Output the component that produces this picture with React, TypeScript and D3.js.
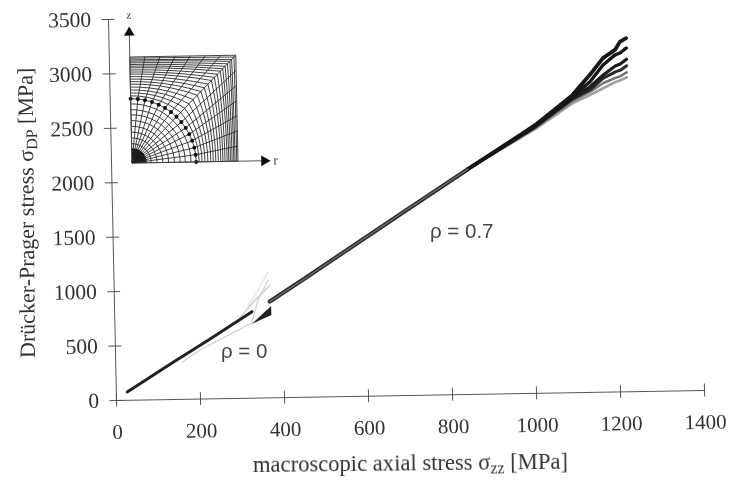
import React, { useEffect, useRef } from 'react';
import * as d3 from 'd3';

// axis ticks
const xTicks = [0, 200, 400, 600, 800, 1000, 1200, 1400];
const yTicks = [0, 500, 1000, 1500, 2000, 2500, 3000, 3500];

// rho = 0.7 family, shared trunk then a fan
const trunkStress = [371, 456, 685, 849];
const trunkDP = [880, 1088, 1660, 2065];
const fanStress = [1011, 1100, 1144, 1176, 1205, 1217, 1232];
const fan1 = [2458, 2722, 2912, 3064, 3137, 3210, 3243];
const fan2 = [2452, 2710, 2848, 3000, 3091, 3108, 3153];
const fan3 = [2446, 2698, 2802, 2908, 2990, 3007, 3050];
const fan4 = [2440, 2688, 2775, 2880, 2935, 2950, 2990];
const fan5 = [2432, 2672, 2757, 2835, 2880, 2895, 2930];
const fan6 = [2422, 2650, 2728, 2789, 2843, 2857, 2884];
const fanSeries = [fan6, fan5, fan4, fan3, fan2, fan1];
const fanColors = ['#a0a0a0', '#777', '#2a2a2a', '#1c1c1c', '#141414', '#141414'];
const fanWidths = [2.6, 2.6, 3, 3.2, 3.4, 3.8];

// rho = 0 family
const lowStress = [27, 137, 227, 328];
const lowDP = [72, 335, 545, 790];
const wedgeStress = [327, 374];
const wedgeLow = [677, 757];
const wedgeHigh = [677, 840];
const greyStress1 = [161, 202, 327, 343, 368];
const greyDP1 = [340, 446, 686, 897, 1075];
const greyStress2 = [299, 336, 372];
const greyDP2 = [735, 897, 1029];
const greyStress3 = [311, 343, 368];
const greyDP3 = [790, 988, 1148];

// inset mesh, in units of the notch radius
const meshIntervals = d3.range(0, 15);
const innerRings = [0.3, 0.39, 0.48, 0.57, 0.66, 0.75, 0.83, 0.92, 1];
const coreRadius = 0.23;
const outerRings = [0.07, 0.14, 0.21, 0.28, 0.35, 0.41, 0.47, 0.53, 0.59, 0.64, 0.69, 0.74, 0.78, 0.82, 0.86, 0.9, 0.93, 0.97, 1];
const boxSide = 1.65;

type Pt = [number, number];

const App = () => {
  const svgRef = useRef<SVGSVGElement>(null);

  useEffect(() => {
    document.body.style.margin = '0';
    const svg = d3.select(svgRef.current);
    svg.selectAll('*').remove();

    const serif = '"Liberation Serif", serif';
    const ink = '#333';

    const defs = svg.append('defs');
    defs.append('filter').attr('id', 'scan').attr('filterUnits', 'userSpaceOnUse')
      .attr('x', 0).attr('y', 0).attr('width', 731).attr('height', 484)
      .append('feGaussianBlur').attr('stdDeviation', 0.4);

    const page = svg.append('g').attr('filter', 'url(#scan)');

    // the scan is slightly skewed, so everything sits in one matrix
    const chart = page.append('g').attr('transform', 'matrix(1,-0.017,0.021,1,116,400)');

    const x = d3.scaleLinear().domain([0, 1400]).range([0, 588]);
    const y = d3.scaleLinear().domain([0, 3500]).range([0, -381]);

    // Axes
    const xAxis = chart.append('g').call(d3.axisBottom(x).tickValues(xTicks).tickSize(6.5).tickSizeOuter(0).tickFormat(() => ''));
    xAxis.selectAll('line').attr('y1', -6.5);
    const yAxis = chart.append('g').call(d3.axisLeft(y).tickValues(yTicks).tickSize(6.5).tickSizeOuter(0).tickFormat(() => ''));
    yAxis.selectAll('line').attr('x1', 6.5).attr('x2', -6.5);
    chart.selectAll('.domain').attr('stroke', '#444').attr('stroke-width', 0.9);
    chart.selectAll('.tick line').attr('stroke', '#444').attr('stroke-width', 0.9);

    chart.selectAll('.xlab').data(xTicks).enter().append('text')
      .attr('x', d => x(d) + 1).attr('y', 39)
      .attr('text-anchor', 'middle').attr('font-family', serif).attr('font-size', 21)
      .attr('fill', ink).text(d => d);
    chart.selectAll('.ylab').data(yTicks).enter().append('text')
      .attr('x', -17).attr('y', d => y(d) + 7.5)
      .attr('text-anchor', 'end').attr('font-family', serif).attr('font-size', 21.5)
      .attr('fill', ink).text(d => d);

    // Curves
    const line = d3.line<Pt>().x(d => x(d[0])).y(d => y(d[1]));
    const curves = chart.append('g').attr('fill', 'none').attr('stroke-linejoin', 'round').attr('stroke-linecap', 'round');

    const draw = (xs: number[], ys: number[], color: string, width: number) =>
      curves.append('path').attr('d', line(xs.map((v, i) => [v, ys[i]] as Pt)))
        .attr('stroke', color).attr('stroke-width', width);

    draw(greyStress1, greyDP1, '#cfcfcf', 1.2);
    draw(greyStress2, greyDP2, '#d0d0d0', 1.4);
    draw(greyStress3, greyDP3, '#e0e0e0', 1.2);
    draw(lowStress, lowDP, '#222', 3);

    curves.append('path')
      .attr('d', d3.area<number>()
        .x(d => x(d))
        .y0((_, i) => y(wedgeLow[i]))
        .y1((_, i) => y(wedgeHigh[i]))(wedgeStress))
      .attr('fill', '#222');

    draw(trunkStress, trunkDP, '#2a2a2a', 4.2);
    fanSeries.forEach((s, i) => {
      draw([trunkStress[3], ...fanStress], [trunkDP[3], ...s], fanColors[i], fanWidths[i]);
    });
    draw(trunkStress, trunkDP, '#666', 1.6);

    // Rho labels
    const note = (px: number, py: number, t: string) =>
      page.append('text').attr('x', px).attr('y', py)
        .attr('font-family', '"Liberation Sans", sans-serif').attr('font-size', 20.5)
        .attr('fill', '#444').text(t);
    note(430, 238, 'ρ = 0.7');
    note(221, 358, 'ρ = 0');

    // Axis titles
    const xTitle = page.append('text').attr('transform', 'translate(253,472) rotate(-0.6)')
      .attr('font-family', serif).attr('font-size', 22.6).attr('fill', ink);
    xTitle.append('tspan').text('macroscopic axial stress σ');
    xTitle.append('tspan').attr('dy', 4).attr('font-size', 16).text('zz');
    xTitle.append('tspan').attr('dy', -4).text(' [MPa]');

    const yTitle = page.append('text').attr('transform', 'translate(35,358) rotate(-90.5)')
      .attr('font-family', serif).attr('font-size', 22).attr('fill', ink);
    yTitle.append('tspan').text('Drücker-Prager stress σ');
    yTitle.append('tspan').attr('dy', 4).attr('font-size', 16).text('DP');
    yTitle.append('tspan').attr('dy', -4).text(' [MPa]');

    // Inset mesh
    const inset = page.append('g').attr('transform', 'matrix(1,-0.017,0.021,1,132,163)');
    const r = d3.scaleLinear().domain([0, boxSide]).range([0, 106]);
    const z = d3.scaleLinear().domain([0, boxSide]).range([0, -106]);
    const meshLine = d3.line<Pt>().x(d => r(d[0])).y(d => z(d[1]));

    const onCircle = (i: number): Pt => {
      const a = (i / 14) * Math.PI / 2;
      return [Math.cos(a), Math.sin(a)];
    };
    const onBox = (i: number): Pt =>
      i <= 7 ? [boxSide, (i / 7) * boxSide] : [((14 - i) / 7) * boxSide, boxSide];
    const between = (i: number, t: number): Pt => {
      const a = onCircle(i);
      const b = onBox(i);
      return [a[0] + (b[0] - a[0]) * t, a[1] + (b[1] - a[1]) * t];
    };

    const mesh = inset.append('g').attr('fill', 'none').attr('stroke', '#222').attr('stroke-width', 0.85);
    innerRings.forEach(f => {
      mesh.append('path').attr('d', meshLine(meshIntervals.map(i => {
        const c = onCircle(i);
        return [c[0] * f, c[1] * f] as Pt;
      })));
    });
    outerRings.forEach(t => {
      mesh.append('path').attr('d', meshLine(meshIntervals.map(i => between(i, t))));
    });
    meshIntervals.forEach(i => {
      mesh.append('path').attr('d', meshLine([[0, 0] as Pt, onCircle(i), onBox(i)]));
    });

    // dense elements at the notch centre read as a solid quarter disc
    inset.append('path')
      .attr('d', d3.arc()({ innerRadius: 0, outerRadius: r(coreRadius), startAngle: 0, endAngle: Math.PI / 2 }))
      .attr('fill', '#1a1a1a');
    inset.selectAll('.dot').data(meshIntervals).enter().append('circle')
      .attr('cx', d => r(onCircle(d)[0])).attr('cy', d => z(onCircle(d)[1]))
      .attr('r', 2).attr('fill', '#111');

    // Inset axes with arrowheads
    const arrow = d3.symbol().type(d3.symbolTriangle).size(50);
    inset.append('line').attr('x1', r(0)).attr('y1', z(0)).attr('x2', r(0)).attr('y2', z(2.02))
      .attr('stroke', '#444').attr('stroke-width', 0.9);
    inset.append('line').attr('x1', r(0)).attr('y1', z(0)).attr('x2', r(2.05)).attr('y2', z(0))
      .attr('stroke', '#444').attr('stroke-width', 0.9);
    inset.append('path').attr('d', arrow()).attr('fill', '#111')
      .attr('transform', `translate(${r(0)},${z(2.03)})`);
    inset.append('path').attr('d', arrow()).attr('fill', '#111')
      .attr('transform', `translate(${r(2.06)},${z(0)}) rotate(90)`);
    inset.append('text').attr('x', r(0)).attr('y', z(2.25)).attr('text-anchor', 'middle')
      .attr('font-family', serif).attr('font-size', 11).attr('fill', ink).text('z');
    inset.append('text').attr('x', r(2.2)).attr('y', z(0) + 4).attr('text-anchor', 'start')
      .attr('font-family', serif).attr('font-size', 13).attr('fill', ink).text('r');
  }, []);

  return <svg ref={svgRef} width={731} height={484} style={{ display: 'block', background: '#fff' }}></svg>;
};

export default App;
